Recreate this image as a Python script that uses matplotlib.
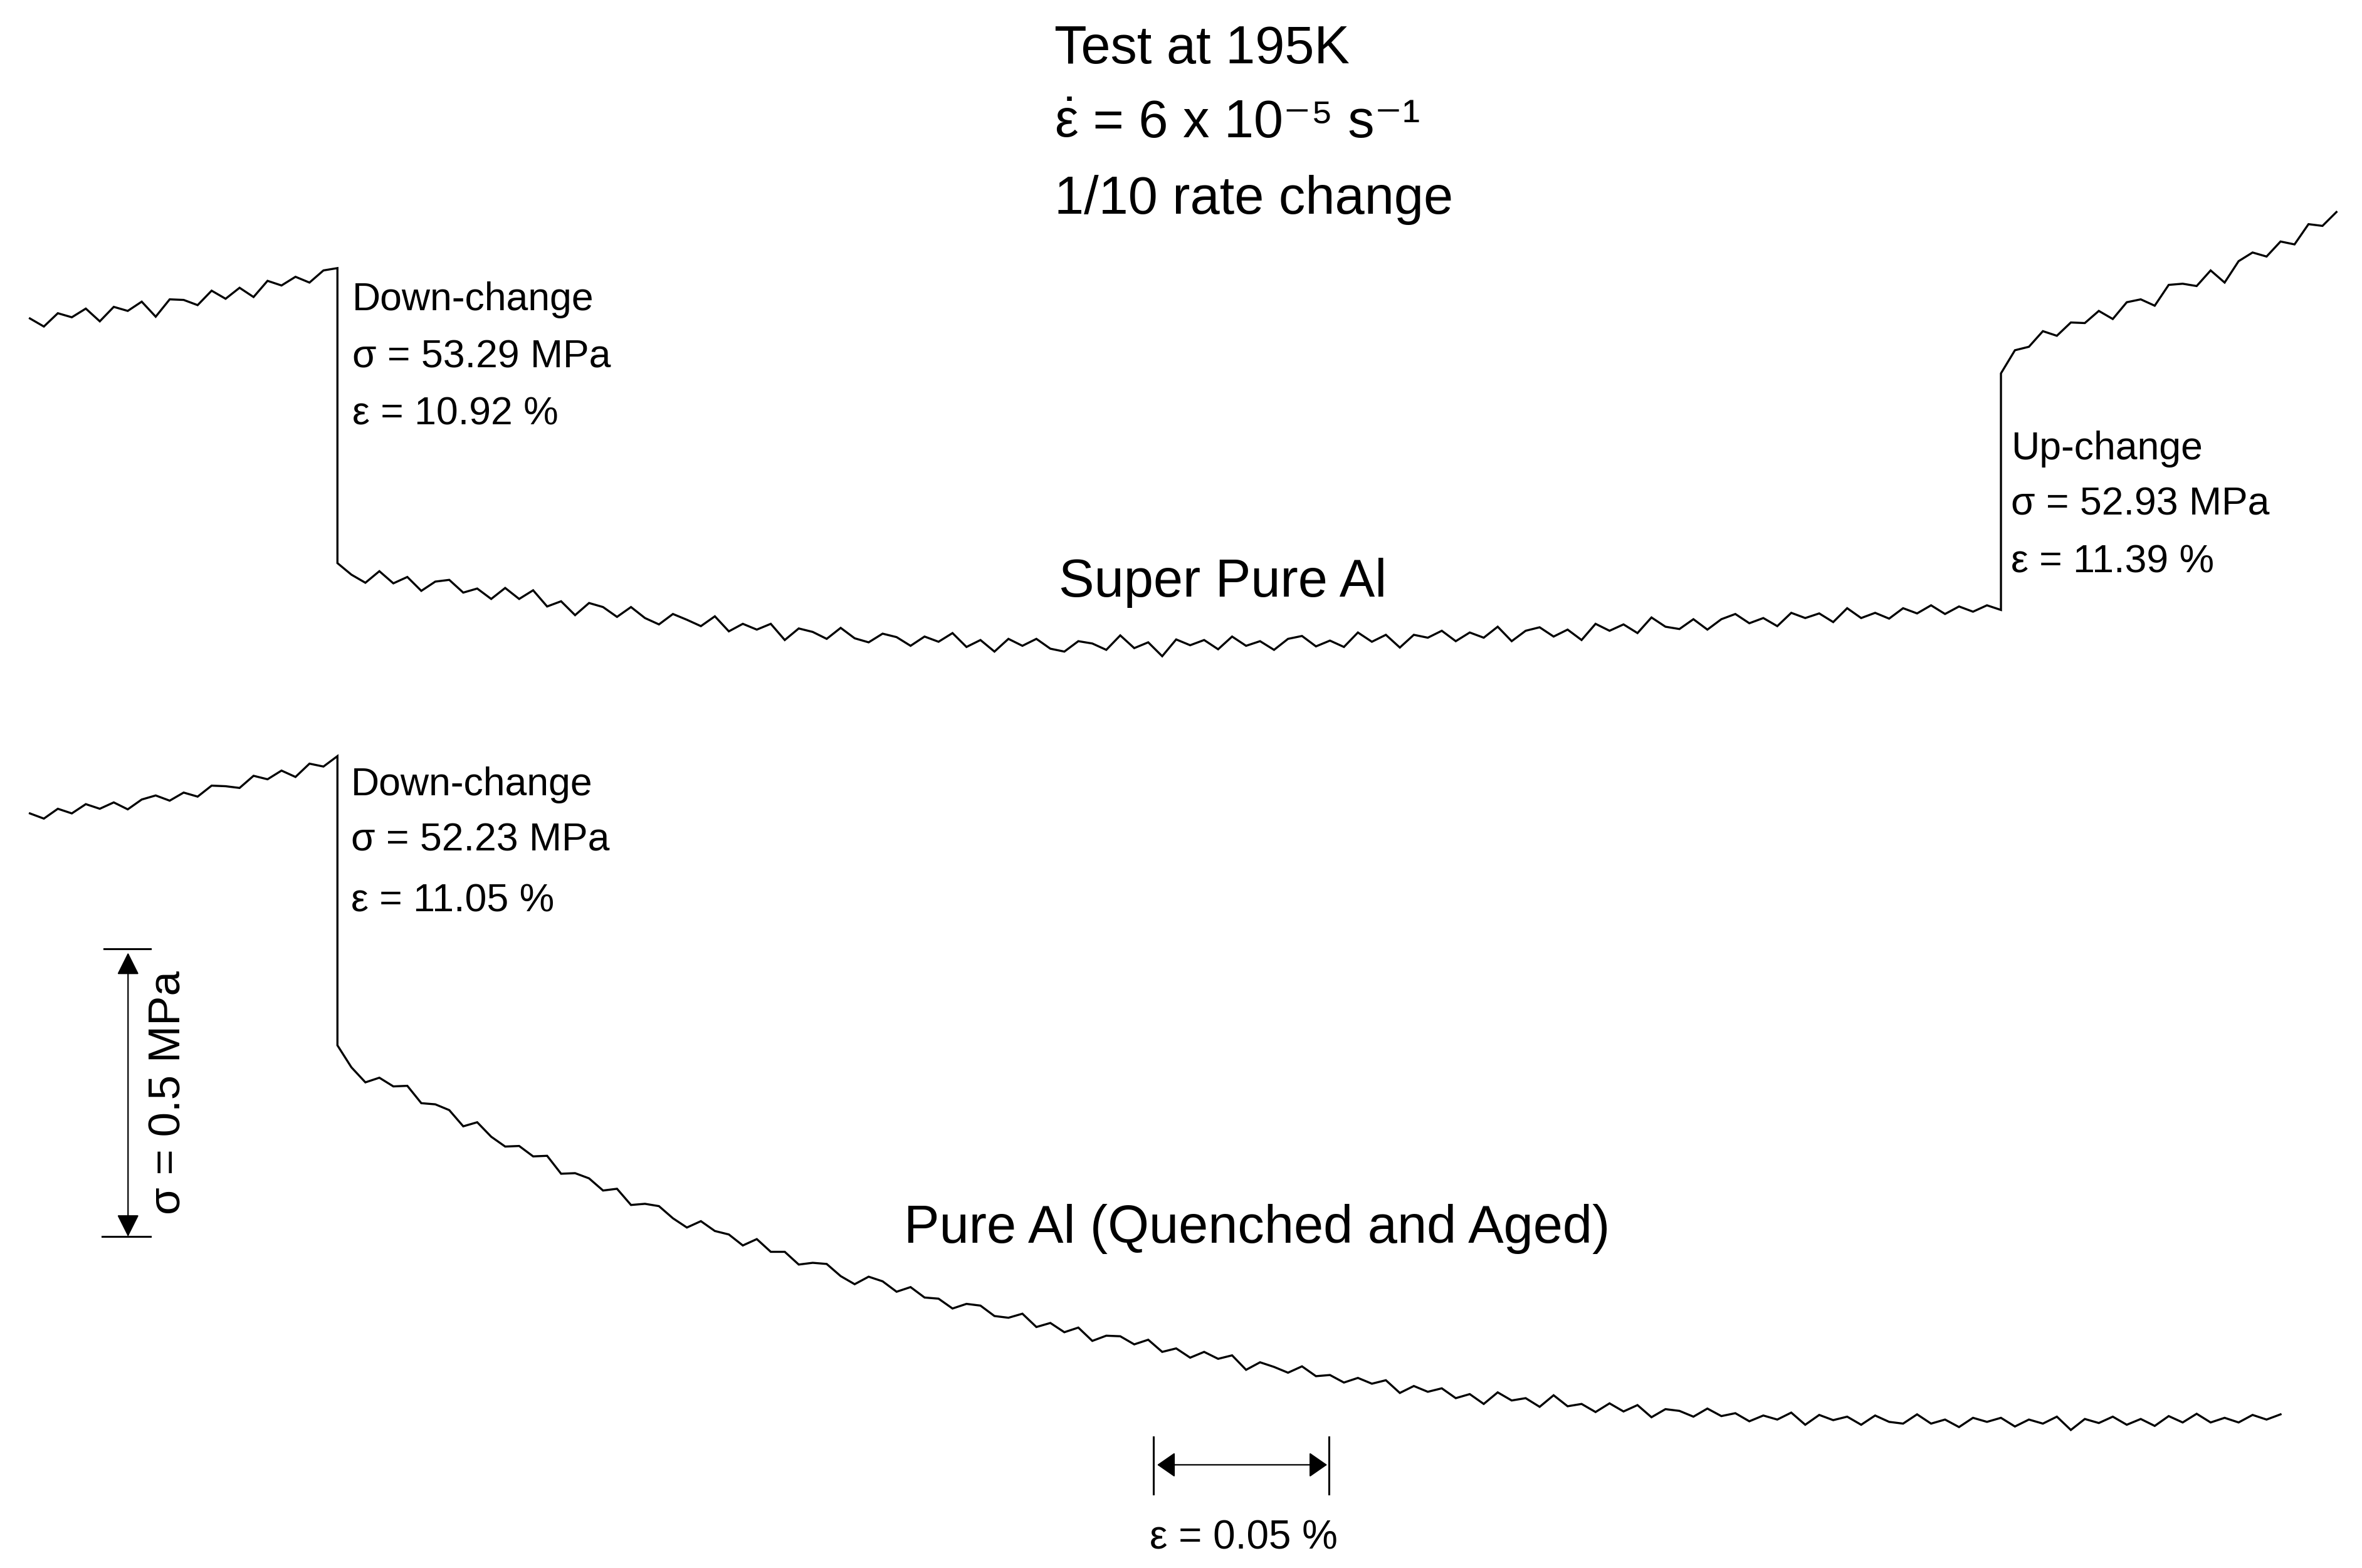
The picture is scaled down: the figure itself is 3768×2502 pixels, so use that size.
import matplotlib
matplotlib.use("Agg")
import matplotlib.pyplot as plt
from matplotlib.patches import FancyArrowPatch, ArrowStyle
from matplotlib.lines import Line2D

# ---------------- data ----------------
# strain measured from the down-change point (%)
STRAIN_BEFORE = [-0.088, -0.084, -0.080, -0.076, -0.072, -0.068, -0.064, -0.060, -0.056, -0.052,
                 -0.048, -0.044, -0.040, -0.036, -0.032, -0.028, -0.024, -0.020, -0.016, -0.012,
                 -0.008, -0.004, 0.000]
STRAIN_AFTER = [0.000, 0.004, 0.008, 0.012, 0.016, 0.020, 0.024, 0.028, 0.032, 0.036,
                0.040, 0.044, 0.048, 0.052, 0.056, 0.060, 0.064, 0.068, 0.072, 0.076,
                0.080, 0.084, 0.088, 0.092, 0.096, 0.100, 0.104, 0.108, 0.112, 0.116,
                0.120, 0.124, 0.128, 0.132, 0.136, 0.140, 0.144, 0.148, 0.152, 0.156,
                0.160, 0.164, 0.168, 0.172, 0.176, 0.180, 0.184, 0.188, 0.192, 0.196,
                0.200, 0.204, 0.208, 0.212, 0.216, 0.220, 0.224, 0.228, 0.232, 0.236,
                0.240, 0.244, 0.248, 0.252, 0.256, 0.260, 0.264, 0.268, 0.272, 0.276,
                0.280, 0.284, 0.288, 0.292, 0.296, 0.300, 0.304, 0.308, 0.312, 0.316,
                0.320, 0.324, 0.328, 0.332, 0.336, 0.340, 0.344, 0.348, 0.352, 0.356,
                0.360, 0.364, 0.368, 0.372, 0.376, 0.380, 0.384, 0.388, 0.392, 0.396,
                0.400, 0.404, 0.408, 0.412, 0.416, 0.420, 0.424, 0.428, 0.432, 0.436,
                0.440, 0.444, 0.448, 0.452, 0.456, 0.460, 0.464, 0.468, 0.472, 0.476,
                0.480, 0.484, 0.488, 0.492, 0.496, 0.500, 0.504, 0.508, 0.512, 0.516,
                0.520, 0.524, 0.528, 0.532, 0.536, 0.540, 0.544, 0.548, 0.552, 0.556]
STRAIN_UP = [0.476, 0.480, 0.484, 0.488, 0.492, 0.496, 0.500, 0.504, 0.508, 0.512,
             0.516, 0.520, 0.524, 0.528, 0.532, 0.536, 0.540, 0.544, 0.548, 0.552,
             0.556, 0.560, 0.564, 0.568, 0.572]

# stress change relative to the down-change stress (MPa)
SUPER_BEFORE = [-0.087, -0.101, -0.078, -0.085, -0.070, -0.092, -0.067, -0.074, -0.058, -0.084,
                -0.054, -0.055, -0.064, -0.039, -0.053, -0.034, -0.050, -0.022, -0.030, -0.015,
                -0.025, -0.004, 0.000]
SUPER_AFTER = [-0.510, -0.530, -0.544, -0.524, -0.545, -0.534, -0.558, -0.542, -0.539, -0.561,
               -0.554, -0.572, -0.553, -0.572, -0.557, -0.585, -0.576, -0.600, -0.579, -0.586,
               -0.603, -0.586, -0.605, -0.616, -0.598, -0.608, -0.619, -0.602, -0.628, -0.615,
               -0.625, -0.615, -0.643, -0.623, -0.629, -0.641, -0.622, -0.640, -0.647, -0.632,
               -0.638, -0.653, -0.637, -0.646, -0.631, -0.655, -0.643, -0.663, -0.641, -0.653,
               -0.641, -0.658, -0.663, -0.645, -0.649, -0.660, -0.635, -0.657, -0.647, -0.671,
               -0.642, -0.652, -0.643, -0.659, -0.637, -0.653, -0.645, -0.660, -0.641, -0.636,
               -0.654, -0.644, -0.655, -0.630, -0.646, -0.634, -0.656, -0.634, -0.639, -0.627,
               -0.645, -0.630, -0.639, -0.620, -0.645, -0.627, -0.621, -0.637, -0.625, -0.643,
               -0.615, -0.627, -0.616, -0.631, -0.604, -0.620, -0.624, -0.607, -0.625, -0.607,
               -0.598, -0.614, -0.605, -0.619, -0.596, -0.605, -0.597, -0.612, -0.588, -0.605,
               -0.596, -0.606, -0.588, -0.597, -0.583, -0.598, -0.585, -0.594, -0.583, -0.591]
SUPER_UP = [-0.182, -0.142, -0.136, -0.109, -0.117, -0.094, -0.095, -0.074, -0.088, -0.059,
            -0.054, -0.065, -0.029, -0.027, -0.031, -0.004, -0.025, 0.012, 0.027, 0.020,
            0.046, 0.041, 0.076, 0.073, 0.097]

PURE_BEFORE = [-0.099, -0.108, -0.091, -0.099, -0.083, -0.091, -0.080, -0.092, -0.075, -0.068,
               -0.077, -0.063, -0.070, -0.051, -0.052, -0.055, -0.034, -0.040, -0.025, -0.036,
               -0.013, -0.018, 0.000]
PURE_AFTER = [-0.500, -0.538, -0.564, -0.556, -0.571, -0.570, -0.600, -0.602, -0.612, -0.640,
              -0.633, -0.658, -0.675, -0.674, -0.692, -0.691, -0.722, -0.721, -0.730, -0.751,
              -0.748, -0.776, -0.774, -0.778, -0.799, -0.815, -0.804, -0.821, -0.827, -0.846,
              -0.835, -0.857, -0.857, -0.879, -0.876, -0.878, -0.899, -0.913, -0.900, -0.908,
              -0.926, -0.918, -0.936, -0.938, -0.955, -0.947, -0.950, -0.968, -0.971, -0.964,
              -0.987, -0.980, -0.996, -0.988, -1.011, -1.002, -1.003, -1.017, -1.009, -1.030,
              -1.024, -1.040, -1.030, -1.042, -1.036, -1.061, -1.048, -1.056, -1.066, -1.055,
              -1.072, -1.070, -1.083, -1.075, -1.085, -1.079, -1.101, -1.089, -1.099, -1.093,
              -1.110, -1.103, -1.120, -1.100, -1.114, -1.110, -1.125, -1.105, -1.124, -1.120,
              -1.134, -1.119, -1.133, -1.122, -1.143, -1.129, -1.132, -1.142, -1.128, -1.141,
              -1.136, -1.150, -1.140, -1.147, -1.135, -1.156, -1.139, -1.148, -1.142, -1.156,
              -1.140, -1.151, -1.154, -1.138, -1.154, -1.147, -1.160, -1.144, -1.151, -1.144,
              -1.159, -1.147, -1.154, -1.142, -1.165, -1.146, -1.153, -1.142, -1.156, -1.146,
              -1.158, -1.141, -1.152, -1.137, -1.152, -1.144, -1.152, -1.139, -1.147, -1.138]

N_SUPER_AFTER = 120  # up-change happens at the 120th sample

TITLE_1 = "Test at 195K"
RATE_SYMBOL = "$\\dot{\\varepsilon}$"
RATE_VALUE = " = 6 x 10\u207b\u2075 s\u207b\u00b9"
TITLE_3 = "1/10 rate change"
SUPER_LABEL = "Super Pure Al"
PURE_LABEL = "Pure Al (Quenched and Aged)"
SUPER_DOWN = ["Down-change", "\u03c3 = 53.29 MPa", "\u03b5 = 10.92 %"]
SUPER_UPTXT = ["Up-change", "\u03c3 = 52.93 MPa", "\u03b5 = 11.39 %"]
PURE_DOWN = ["Down-change", "\u03c3 = 52.23 MPa", "\u03b5 = 11.05 %"]
SIGMA_BAR_LABEL = "\u03c3 = 0.5 MPa"
STRAIN_BAR_LABEL = "\u03b5 = 0.05 %"

# ---------------- layout ----------------
W, H = 1568.0, 1041.0          # layout grid used for positioning
XPX = 0.05 / 116.0             # % strain per layout unit
YPX = 0.5 / 192.0              # MPa per layout unit
X0 = 224.0                     # layout x of the down-change
SUPER_REF = 178.0              # layout y of the upper down-change point
PURE_REF = 502.0               # layout y of the lower down-change point

plt.rcParams["mathtext.fontset"] = "custom"
plt.rcParams["mathtext.rm"] = "Liberation Sans"
plt.rcParams["mathtext.it"] = "Liberation Sans"
plt.rcParams["mathtext.bf"] = "Liberation Sans:bold"

FAM = ["Liberation Sans", "DejaVu Sans"]
BIG = 61

fig = plt.figure(figsize=(37.68, 25.02), dpi=100, facecolor="white")
ax = fig.add_axes([0, 0, 1, 1])
ax.set_xlim(-X0 * XPX, (W - X0) * XPX)
ax.set_ylim(-H * YPX, 0)
ax.axis("off")

sup_x = STRAIN_BEFORE + STRAIN_AFTER[:N_SUPER_AFTER] + STRAIN_UP
sup_y = [v - SUPER_REF * YPX for v in SUPER_BEFORE + SUPER_AFTER + SUPER_UP]
pur_x = STRAIN_BEFORE + STRAIN_AFTER[:len(PURE_AFTER)]
pur_y = [v - PURE_REF * YPX for v in PURE_BEFORE + PURE_AFTER]
ax.plot(sup_x, sup_y, color="black", lw=2.4, solid_joinstyle="miter")
ax.plot(pur_x, pur_y, color="black", lw=2.4, solid_joinstyle="miter")


def fx(px):
    return px / W


def fy(py):
    return 1.0 - py / H


def txt(px, py, s, size, **kw):
    return fig.text(fx(px), fy(py), s, fontsize=size, family=FAM, color="black",
                    ha=kw.pop("ha", "left"), va=kw.pop("va", "baseline"), **kw)


# title block
txt(700, 42, TITLE_1, BIG)
sym = txt(700, 91, RATE_SYMBOL, BIG)
renderer = fig.canvas.get_renderer()
bb = sym.get_window_extent(renderer)
fig.text(bb.x1 / fig.bbox.width, fy(91), RATE_VALUE, fontsize=BIG, family=FAM,
         color="black", ha="left", va="baseline")
txt(700, 142, TITLE_3, BIG)

txt(703, 396, SUPER_LABEL, BIG)
txt(600, 825, PURE_LABEL, BIG)

for lines, x, bases in [(SUPER_DOWN, 234, [206, 244, 282]),
                        (PURE_DOWN, 233, [528, 565, 605]),
                        (SUPER_UPTXT, 1335, [305, 342, 380])]:
    for s, b in zip(lines, bases):
        txt(x, b, s, 45)

# vertical (stress) scale bar
v_top, v_bot, v_x = 630, 821, 85
for yy, x1 in [(v_top, 69), (v_bot, 68)]:
    fig.add_artist(Line2D([fx(x1), fx(100)], [fy(yy), fy(yy)], color="black", lw=2.2))
fig.add_artist(FancyArrowPatch((fx(v_x), fy(v_top + 2.5)), (fx(v_x), fy(v_bot)),
                               transform=fig.transFigure,
                               arrowstyle=ArrowStyle("<|-|>", head_length=0.44, head_width=0.22),
                               mutation_scale=50, lw=1.6, color="black",
                               shrinkA=0, shrinkB=0))
txt(112, (v_top + v_bot) / 2, SIGMA_BAR_LABEL, 51, rotation=90, ha="center", va="center")

# horizontal (strain) scale bar
h_y, h_l, h_r = 972.5, 765.7, 882.0
for xx in (h_l, h_r):
    fig.add_artist(Line2D([fx(xx), fx(xx)], [fy(954), fy(992)], color="black", lw=2.2))
fig.add_artist(FancyArrowPatch((fx(h_l + 2.5), fy(h_y)), (fx(h_r - 1), fy(h_y)),
                               transform=fig.transFigure,
                               arrowstyle=ArrowStyle("<|-|>", head_length=0.36, head_width=0.25),
                               mutation_scale=50, lw=1.6, color="black",
                               shrinkA=0, shrinkB=0))
txt(763, 1028.5, STRAIN_BAR_LABEL, 46)

fig.savefig("out.png", dpi=100, facecolor="white")
